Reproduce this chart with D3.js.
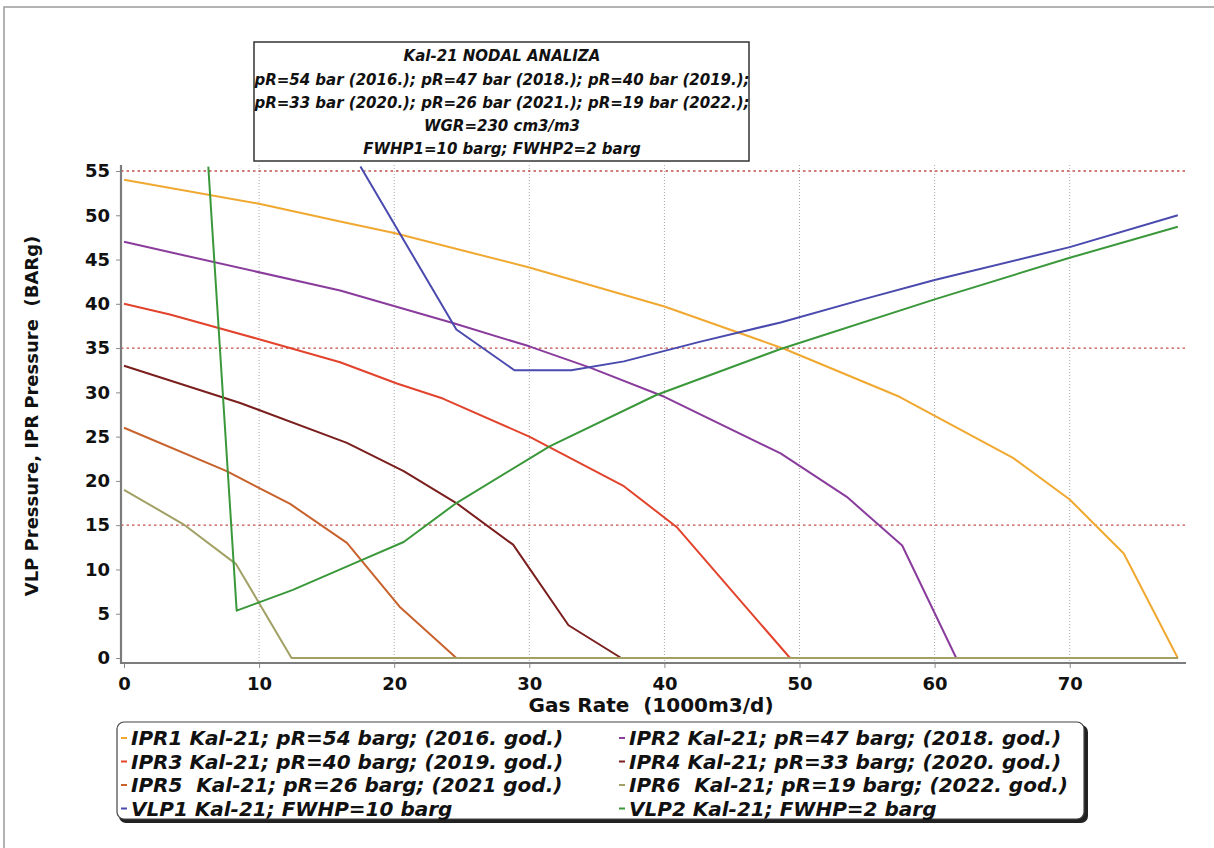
<!DOCTYPE html>
<html>
<head>
<meta charset="utf-8">
<script src="https://cdn.jsdelivr.net/npm/d3@7/dist/d3.min.js"></script>
<style>
    body { margin: 0; background: #fff; }
    text { font-family: "DejaVu Sans", Verdana, sans-serif; font-weight: bold; fill: #111; }
    .ital { font-style: italic; }
</style>
</head>
<body>
<svg id="chart" width="1214" height="848"></svg>
<script>
// title box text
var titleLines = [
    'Kal-21 NODAL ANALIZA',
    'pR=54 bar (2016.); pR=47 bar (2018.); pR=40 bar (2019.);',
    'pR=33 bar (2020.); pR=26 bar (2021.); pR=19 bar (2022.);',
    'WGR=230 cm3/m3',
    'FWHP1=10 barg; FWHP2=2 barg'
];

var xTicks = [0, 10, 20, 30, 40, 50, 60, 70];
var yTicks = [0, 5, 10, 15, 20, 25, 30, 35, 40, 45, 50, 55];
var redGridValues = [15, 35, 55];

// [gas rate, pressure]
var ipr1 = [[0, 54], [10, 51.3], [16, 49.3], [20, 48], [30, 44.1], [40, 39.7], [48.9, 34.9], [57.4, 29.5], [65.8, 22.6], [70, 17.9], [74, 11.8], [78, 0]];
var ipr2 = [[0, 47], [16, 41.5], [24.4, 37.8], [30, 35.2], [34.5, 32.8], [40, 29.5], [48.6, 23.1], [53.5, 18.2], [57.6, 12.7], [61.6, 0], [78, 0]];
var ipr3 = [[0, 40], [3.4, 38.8], [10, 36], [16, 33.4], [20.2, 31], [23.6, 29.3], [30, 25], [37, 19.4], [40.9, 14.8], [49.3, 0], [78, 0]];
var ipr4 = [[0, 33], [8.6, 28.8], [16.5, 24.3], [20.7, 21.1], [24.6, 17.5], [28.8, 12.8], [32.9, 3.7], [36.8, 0], [78, 0]];
var ipr5 = [[0, 26], [7.6, 21.1], [12.3, 17.4], [16.5, 13], [20.4, 5.8], [24.6, 0], [78, 0]];
var ipr6 = [[0, 19], [4.4, 15.1], [8.3, 10.6], [12.4, 0], [78, 0]];
var vlp1 = [[17.5, 55.5], [24.6, 37.1], [28.9, 32.5], [33.1, 32.5], [37, 33.5], [42.6, 35.7], [48.6, 37.9], [54.7, 40.5], [60, 42.7], [70, 46.4], [78, 50]];
var vlp2 = [[6.24, 55.5], [8.34, 5.35], [12.5, 7.7], [17.5, 11], [20.7, 13.1], [24.6, 17.5], [31.5, 23.9], [39.4, 29.7], [48.6, 34.9], [60, 40.5], [70, 45.2], [78, 48.7]];

var seriesNames = [
    'IPR1 Kal-21; pR=54 barg; (2016. god.)',
    'IPR2 Kal-21; pR=47 barg; (2018. god.)',
    'IPR3 Kal-21; pR=40 barg; (2019. god.)',
    'IPR4 Kal-21; pR=33 barg; (2020. god.)',
    'IPR5  Kal-21; pR=26 barg; (2021 god.)',
    'IPR6  Kal-21; pR=19 barg; (2022. god.)',
    'VLP1 Kal-21; FWHP=10 barg',
    'VLP2 Kal-21; FWHP=2 barg'
];
var seriesValues = [ipr1, ipr2, ipr3, ipr4, ipr5, ipr6, vlp1, vlp2];

var colors = ['#f0a830', '#8a3c9c', '#e2432c', '#7a1e1e', '#c8622c', '#a2a064', '#4a4aae', '#3a983a'];

var svg = d3.select('#chart');

var x = d3.scaleLinear().domain([0, 78.4]).range([124, 1183.2]);
var y = d3.scaleLinear().domain([0, 55]).range([658, 171]);

var axisX = 121, axisY = 663, plotTop = 165, plotRight = 1186;

// outer frame
svg.append('path')
    .attr('d', 'M4,848 V7 H1214')
    .attr('fill', 'none')
    .attr('stroke', '#9a9a9a')
    .attr('stroke-width', 1.5)
;

// Grid
svg.append('g').selectAll('line')
    .data(xTicks.filter(v => v > 0))
    .enter().append('line')
    .attr('x1', d => x(d)).attr('x2', d => x(d))
    .attr('y1', plotTop).attr('y2', axisY)
    .attr('stroke', '#a8a8b4')
    .attr('stroke-width', 1)
    .attr('stroke-dasharray', '1,2')
;

svg.append('g').selectAll('line')
    .data(redGridValues)
    .enter().append('line')
    .attr('x1', axisX).attr('x2', plotRight)
    .attr('y1', d => y(d)).attr('y2', d => y(d))
    .attr('stroke', '#c4504a')
    .attr('stroke-width', 1.3)
    .attr('stroke-dasharray', '2.5,3')
;

// Axes
var xAxisG = svg.append('g').attr('transform', `translate(0,${ axisY })`);
xAxisG.call(d3.axisBottom(x).tickValues(d3.range(0, 78.4, 2.5)).tickSize(3).tickFormat(''));
xAxisG.call(d3.axisBottom(x).tickValues(xTicks).tickSize(5).tickPadding(9));
xAxisG.selectAll('.domain').remove();

var yAxisG = svg.append('g').attr('transform', `translate(${ axisX },0)`);
yAxisG.call(d3.axisLeft(y).tickValues(d3.range(0, 56, 1)).tickSize(3).tickFormat(''));
yAxisG.call(d3.axisLeft(y).tickValues(yTicks).tickSize(5).tickPadding(6));
yAxisG.selectAll('.domain').remove();

svg.selectAll('.tick line').attr('stroke', '#8a8a8a');
svg.selectAll('.tick text')
    .attr('font-family', '"DejaVu Sans", Verdana, sans-serif')
    .attr('font-size', 18)
    .attr('font-weight', 'bold')
    .attr('fill', '#111')
;

svg.append('path')
    .attr('d', `M${ axisX },${ plotTop } V${ axisY } H${ plotRight }`)
    .attr('fill', 'none')
    .attr('stroke', '#7c7c7c')
    .attr('stroke-width', 2.2)
;

// Axis titles
svg.append('text')
    .attr('x', 651).attr('y', 712)
    .attr('text-anchor', 'middle')
    .attr('font-size', 20)
    .style('white-space', 'pre')
    .text('Gas Rate  (1000m3/d)')
;

svg.append('text')
    .attr('transform', 'translate(38,416) rotate(-90)')
    .attr('text-anchor', 'middle')
    .attr('font-size', 18)
    .style('white-space', 'pre')
    .text('VLP Pressure, IPR Pressure  (BARg)')
;

// Curves
svg.append('clipPath').attr('id', 'plotClip')
    .append('rect')
    .attr('x', axisX).attr('y', plotTop)
    .attr('width', plotRight - axisX).attr('height', axisY - plotTop)
;

var line = d3.line()
    .x(d => x(d[0]))
    .y(d => y(d[1]))
;

svg.append('g').attr('clip-path', 'url(#plotClip)')
    .selectAll('path')
    .data(seriesValues)
    .enter().append('path')
    .attr('d', line)
    .attr('fill', 'none')
    .attr('stroke', (d, i) => colors[i])
    .attr('stroke-width', 2)
    .attr('stroke-linejoin', 'round')
;

// Title box
var titleG = svg.append('g');
titleG.append('rect')
    .attr('x', 254).attr('y', 42)
    .attr('width', 495).attr('height', 119)
    .attr('fill', '#fff')
    .attr('stroke', '#333')
    .attr('stroke-width', 1.5)
;
titleG.selectAll('text')
    .data(titleLines)
    .enter().append('text')
    .attr('class', 'ital')
    .attr('x', 502)
    .attr('y', (d, i) => [61, 85, 108, 131, 154][i])
    .attr('text-anchor', 'middle')
    .attr('font-size', 15)
    .text(d => d)
;

// Legend
var legendG = svg.append('g');
legendG.append('rect')
    .attr('x', 119).attr('y', 725)
    .attr('width', 969).attr('height', 98)
    .attr('rx', 7)
    .attr('fill', '#222')
;
legendG.append('rect')
    .attr('x', 117).attr('y', 722)
    .attr('width', 967).attr('height', 97)
    .attr('rx', 7)
    .attr('fill', '#fff')
    .attr('stroke', '#444')
    .attr('stroke-width', 1.2)
;

var items = legendG.selectAll('.legend-item')
    .data(seriesNames)
    .enter().append('g')
    .attr('class', 'legend-item')
    .attr('transform', (d, i) => `translate(${ i % 2 ? 619 : 121 },${ 738 + Math.floor(i / 2) * 23.5 })`)
;
items.append('line')
    .attr('x1', 0).attr('x2', 6)
    .attr('stroke', (d, i) => colors[i])
    .attr('stroke-width', 2)
;
items.append('text')
    .attr('class', 'ital')
    .attr('x', 10).attr('y', 7)
    .attr('font-size', 20)
    .style('white-space', 'pre')
    .text(d => d)
;
</script>
</body>
</html>
